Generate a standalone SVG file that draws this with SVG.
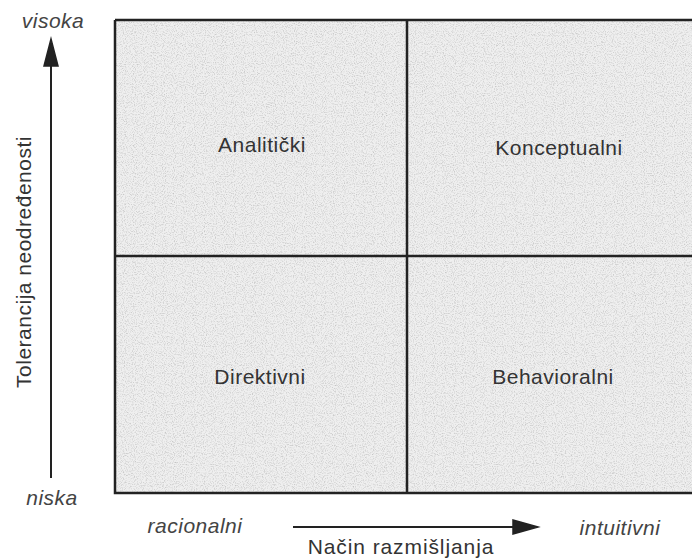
<svg xmlns="http://www.w3.org/2000/svg" width="692" height="560" viewBox="0 0 692 560">
<style>
.lbl{font-family:"Liberation Sans",Arial,sans-serif;font-size:21px;fill:#333;letter-spacing:0.5px;}
.it{font-family:"Liberation Sans",Arial,sans-serif;font-size:21px;font-style:italic;fill:#444;letter-spacing:0.5px;}
.grid{stroke:#222;stroke-width:2.5;fill:none;}
.ax{stroke:#222;stroke-width:2;fill:none;}
</style>
<defs>
<filter id="noise" x="0" y="0" width="100%" height="100%">
<feTurbulence type="fractalNoise" baseFrequency="0.9" numOctaves="2" seed="3" result="t"/>
<feColorMatrix in="t" type="matrix" values="0 0 0 0 0.55  0 0 0 0 0.55  0 0 0 0 0.55  0 0 0 -2.2 1.2" result="n"/>
<feComposite in="n" in2="SourceGraphic" operator="in"/>
</filter>
</defs>
<g id="background">
<rect x="115" y="20" width="580" height="473" fill="#efefef"/>
<rect x="115" y="20" width="580" height="473" fill="#efefef" filter="url(#noise)"/>
</g>
<g id="grid">
<path class="grid" d="M115,20 H692 M115,20 V493 H692 M407,20 V493 M115,256 H692"/>
</g>
<g id="connectors">
<line class="ax" x1="51" y1="478" x2="51" y2="62"/>
<path d="M51,39 L44,66 L58,66 Z" fill="#222" stroke="#222" stroke-width="1.5"/>
<line class="ax" x1="293" y1="527" x2="516" y2="527"/>
<path d="M538,527 L513,520 L513,534 Z" fill="#222" stroke="#222" stroke-width="1.5"/>
</g>
<g id="n-analiticki"><text class="lbl" x="262" y="152" text-anchor="middle">Analitički</text></g>
<g id="n-konceptualni"><text class="lbl" x="559" y="155" text-anchor="middle">Konceptualni</text></g>
<g id="n-direktivni"><text class="lbl" x="260" y="384" text-anchor="middle">Direktivni</text></g>
<g id="n-behavioralni"><text class="lbl" x="553" y="384" text-anchor="middle">Behavioralni</text></g>
<g id="axis-labels">
<text class="it" x="53" y="28" text-anchor="middle">visoka</text>
<text class="it" x="52" y="505" text-anchor="middle">niska</text>
<text class="it" x="195" y="533" text-anchor="middle">racionalni</text>
<text class="it" x="620" y="535" text-anchor="middle">intuitivni</text>
<text class="lbl" x="401" y="554" text-anchor="middle" style="letter-spacing:0.9px">Način razmišljanja</text>
<text class="lbl" transform="translate(31,262) rotate(-90)" text-anchor="middle">Tolerancija neodređenosti</text>
</g>
</svg>
